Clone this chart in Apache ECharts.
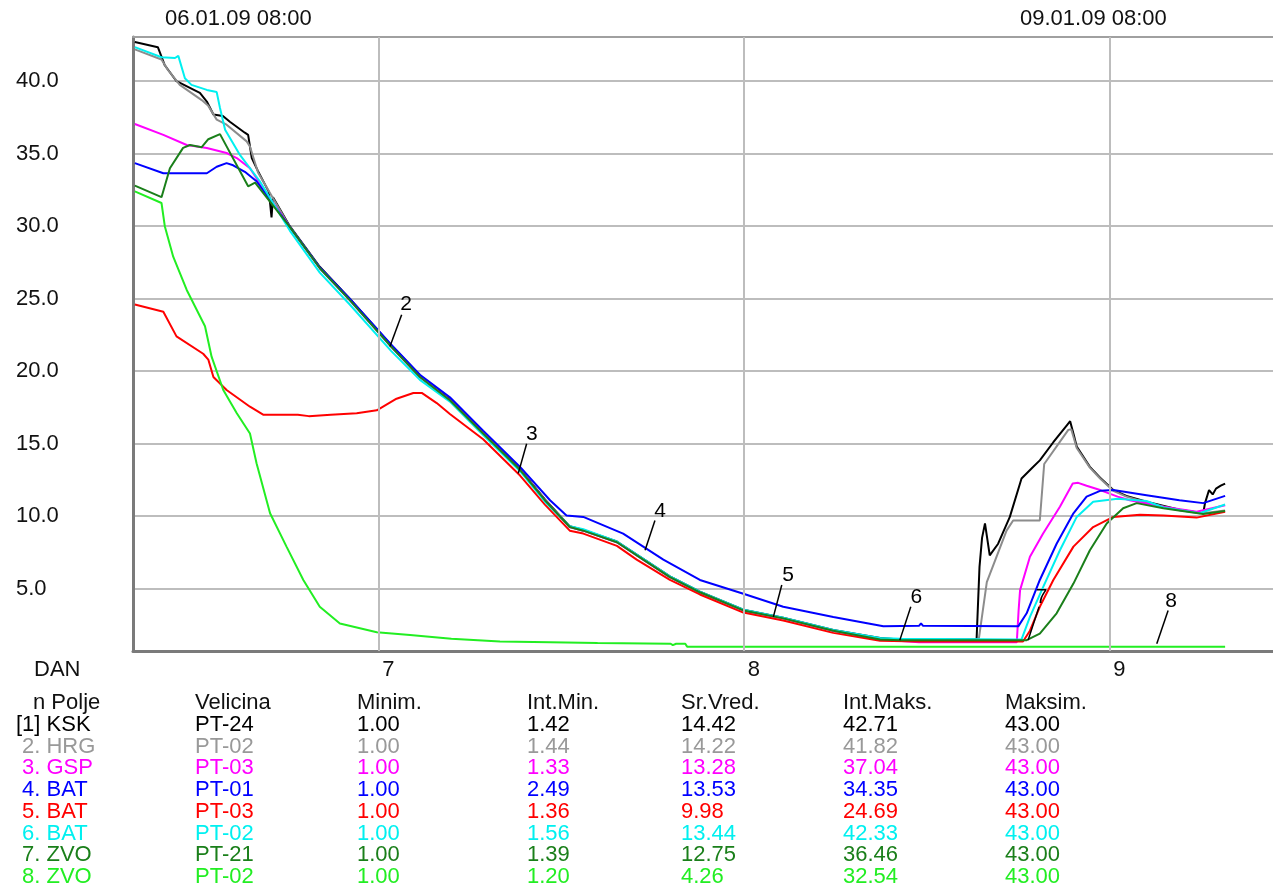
<!DOCTYPE html>
<html lang="hr">
<head>
    <meta charset="UTF-8">
    <title>DAN 06.01.09 - 09.01.09</title>
    <script src="https://cdn.jsdelivr.net/npm/echarts@6/dist/echarts.min.js"></script>
    <style>
        * { margin: 0; padding: 0; box-sizing: border-box; }
        body { background: #ffffff; overflow: hidden; }
        #chart { width: 1273px; height: 887px; }
    </style>
</head>
<body>
    <div id="chart"></div>
    <script type="text/javascript">
        // x = day of month (fractional), y = measured value
        const ksk = [[6.334,42.7],[6.397,42.35],[6.416,41.1],[6.448,40.0],[6.512,39.2],[6.531,38.6],[6.549,37.7],[6.575,37.6],[6.594,37.2],[6.635,36.45],[6.644,36.3],[6.654,34.7],[6.671,33.8],[6.700,32.4],[6.704,31.6],[6.708,30.6],[6.712,32.0],[6.758,30.0],[6.840,27.2],[6.922,25.0],[7.035,21.8],[7.114,19.7],[7.196,18.05],[7.287,15.75],[7.388,13.25],[7.456,11.15],[7.524,9.3],[7.561,9.05],[7.653,8.25],[7.725,7.05],[7.798,5.85],[7.880,4.8],[7.999,3.55],[8.108,3.0],[8.245,2.15],[8.373,1.6],[8.427,1.5],[8.637,1.5],[8.645,6.5],[8.652,8.5],[8.660,9.5],[8.673,7.3],[8.696,8.1],[8.728,9.95],[8.760,12.6],[8.788,13.3],[8.810,13.85],[8.847,15.1],[8.885,16.3],[8.893,16.55],[8.905,15.4],[8.911,14.8],[8.947,13.4],[8.975,12.65],[9.011,11.8],[9.047,11.4],[9.102,11.0],[9.192,10.45],[9.257,10.2],[9.262,10.9],[9.273,11.8],[9.283,11.5],[9.292,11.9],[9.305,12.1],[9.317,12.25]];
        const hrg = [[6.334,42.2],[6.407,41.5],[6.424,40.8],[6.457,39.75],[6.517,38.7],[6.535,38.3],[6.558,37.35],[6.585,37.0],[6.640,35.85],[6.649,35.5],[6.671,33.7],[6.758,29.95],[6.840,27.15],[6.922,24.95],[7.035,21.75],[7.114,19.65],[7.196,18.0],[7.287,15.7],[7.388,13.2],[7.456,11.1],[7.524,9.25],[7.561,9.0],[7.653,8.2],[7.725,7.0],[7.798,5.8],[7.880,4.75],[7.999,3.5],[8.108,2.95],[8.245,2.1],[8.373,1.55],[8.427,1.5],[8.643,1.5],[8.665,5.45],[8.719,9.0],[8.737,9.7],[8.810,9.7],[8.822,13.6],[8.888,15.95],[8.896,16.0],[8.911,14.7],[8.947,13.35],[8.975,12.6],[9.011,11.75],[9.047,11.35],[9.102,10.95],[9.192,10.4],[9.257,10.2],[9.317,10.4]];
        const gsp = [[6.334,37.05],[6.412,36.3],[6.476,35.6],[6.531,35.4],[6.585,35.05],[6.613,34.7],[6.649,34.0],[6.685,32.6],[6.758,29.95],[6.840,27.1],[6.922,24.9],[7.035,21.7],[7.114,19.6],[7.196,18.0],[7.287,15.7],[7.388,13.2],[7.456,11.1],[7.524,9.25],[7.561,9.0],[7.653,8.2],[7.725,7.0],[7.798,5.8],[7.880,4.75],[7.999,3.5],[8.108,2.95],[8.245,2.1],[8.373,1.5],[8.480,1.3],[8.747,1.3],[8.752,3.5],[8.756,4.9],[8.783,7.2],[8.819,8.8],[8.865,10.65],[8.900,12.25],[8.915,12.3],[8.938,12.1],[8.975,11.8],[9.023,11.35],[9.056,11.1],[9.148,10.65],[9.239,10.3],[9.317,10.75]];
        const batPT01 = [[6.334,34.35],[6.412,33.65],[6.531,33.65],[6.558,34.1],[6.585,34.35],[6.603,34.2],[6.635,33.75],[6.667,33.1],[6.758,29.95],[6.840,27.15],[6.922,25.0],[7.035,21.85],[7.114,19.75],[7.196,18.2],[7.287,15.9],[7.388,13.4],[7.470,11.1],[7.515,10.05],[7.561,9.95],[7.670,8.8],[7.780,7.0],[7.880,5.6],[7.999,4.65],[8.108,3.75],[8.245,3.05],[8.382,2.4],[8.480,2.45],[8.485,2.6],[8.490,2.45],[8.751,2.4],[8.774,3.3],[8.810,5.6],[8.856,8.1],[8.902,10.2],[8.938,11.35],[8.975,11.75],[9.011,11.8],[9.102,11.45],[9.192,11.1],[9.257,10.9],[9.317,11.4]];
        const batPT03 = [[6.334,24.6],[6.412,24.1],[6.448,22.4],[6.521,21.2],[6.535,20.8],[6.549,19.6],[6.585,18.7],[6.649,17.55],[6.685,17.0],[6.780,17.0],[6.810,16.9],[6.870,17.0],[6.941,17.1],[6.996,17.3],[7.050,18.1],[7.096,18.5],[7.119,18.5],[7.160,17.8],[7.196,17.05],[7.287,15.3],[7.388,12.8],[7.456,10.8],[7.524,9.0],[7.561,8.8],[7.653,7.95],[7.707,7.0],[7.798,5.6],[7.880,4.6],[7.999,3.35],[8.108,2.8],[8.245,1.95],[8.373,1.4],[8.480,1.35],[8.764,1.35],[8.783,2.1],[8.810,3.75],[8.847,5.6],[8.902,7.9],[8.956,9.25],[9.011,9.95],[9.084,10.1],[9.148,10.05],[9.239,9.9],[9.317,10.3]];
        const batPT02 = [[6.334,42.35],[6.407,41.65],[6.444,41.6],[6.453,41.75],[6.471,40.2],[6.489,39.75],[6.531,39.4],[6.558,39.25],[6.567,38.15],[6.581,36.65],[6.622,34.9],[6.676,33.1],[6.758,29.7],[6.840,26.8],[6.922,24.6],[7.035,21.4],[7.114,19.4],[7.196,17.9],[7.287,15.6],[7.388,13.1],[7.456,11.0],[7.524,9.3],[7.561,9.1],[7.653,8.25],[7.725,7.05],[7.798,5.85],[7.880,4.8],[7.999,3.55],[8.108,3.0],[8.245,2.15],[8.373,1.6],[8.427,1.55],[8.760,1.5],[8.783,3.05],[8.819,5.1],[8.865,7.65],[8.911,9.95],[8.956,11.0],[9.023,11.2],[9.102,11.05],[9.148,10.6],[9.247,10.2],[9.317,10.8]];
        const zvoPT21 = [[6.334,32.8],[6.407,32.0],[6.430,34.0],[6.466,35.4],[6.485,35.6],[6.517,35.45],[6.535,36.0],[6.567,36.35],[6.572,36.46],[6.644,32.75],[6.663,33.0],[6.758,29.95],[6.840,27.1],[6.922,24.9],[7.035,21.7],[7.114,19.6],[7.196,18.0],[7.287,15.7],[7.388,13.2],[7.456,11.1],[7.524,9.25],[7.561,9.0],[7.653,8.2],[7.725,7.0],[7.798,5.8],[7.880,4.75],[7.999,3.5],[8.108,2.95],[8.245,2.1],[8.373,1.5],[8.427,1.45],[8.774,1.45],[8.810,1.9],[8.856,3.3],[8.902,5.35],[8.947,7.65],[8.993,9.5],[9.038,10.55],[9.075,10.9],[9.148,10.55],[9.257,10.15],[9.317,10.35]];
        const zvoPT02 = [[6.334,32.4],[6.407,31.6],[6.416,30.0],[6.439,27.9],[6.476,25.6],[6.526,23.1],[6.544,21.0],[6.576,18.7],[6.613,17.1],[6.649,15.7],[6.667,13.65],[6.704,10.2],[6.749,7.9],[6.795,5.6],[6.840,3.75],[6.895,2.6],[6.996,2.0],[7.087,1.8],[7.200,1.55],[7.333,1.35],[7.470,1.3],[7.600,1.25],[7.800,1.2],[7.806,1.1],[7.815,1.2],[7.840,1.2],[7.845,1.0],[9.317,1.0]];

        // day gridlines
        const dayTicks = [7, 8, 9];

        // table rows (n Polje, Velicina, Minim., Int.Min., Sr.Vred., Int.Maks., Maksim.)
        const polje = ['[1] KSK', '2. HRG', '3. GSP', '4. BAT', '5. BAT', '6. BAT', '7. ZVO', '8. ZVO'];
        const velicina = ['PT-24', 'PT-02', 'PT-03', 'PT-01', 'PT-03', 'PT-02', 'PT-21', 'PT-02'];
        const minim = ['1.00', '1.00', '1.00', '1.00', '1.00', '1.00', '1.00', '1.00'];
        const intMin = ['1.42', '1.44', '1.33', '2.49', '1.36', '1.56', '1.39', '1.20'];
        const srVred = ['14.42', '14.22', '13.28', '13.53', '9.98', '13.44', '12.75', '4.26'];
        const intMaks = ['42.71', '41.82', '37.04', '34.35', '24.69', '42.33', '36.46', '32.54'];
        const maksim = ['43.00', '43.00', '43.00', '43.00', '43.00', '43.00', '43.00', '43.00'];
        const headers = ['n Polje', 'Velicina', 'Minim.', 'Int.Min.', 'Sr.Vred.', 'Int.Maks.', 'Maksim.'];
        const colors = ['#000000', '#8c8c8c', '#ff00ff', '#0000ff', '#ff0000', '#00f0f0', '#1a7f1a', '#22ee22'];
        const seriesData = [ksk, hrg, gsp, batPT01, batPT03, batPT02, zvoPT21, zvoPT02];

        // numbered callouts: text, leader start, leader end, text position
        const calloutText = ['2', '3', '4', '5', '6', '7', '8'];
        const calloutFrom = [[7.032,21.7],[7.383,12.95],[7.730,7.65],[8.081,3.05],[8.427,1.45],[8.778,1.45],[9.130,1.2]];
        const calloutTo = [[7.064,23.9],[7.406,15.0],[7.757,9.7],[8.104,5.25],[8.457,3.75],[8.808,3.75],[9.161,3.5]];
        const calloutAt = [[7.076,24.6],[7.420,15.65],[7.771,10.35],[8.121,5.95],[8.472,4.4],[8.815,4.4],[9.169,4.15]];

        const FONT = '"Liberation Sans", Arial, sans-serif';
        const chart = echarts.init(document.getElementById('chart'));

        // empty carrier series for the vertical day gridlines (drawn under the data)
        const series = [{
            type: 'line',
            data: [],
            z: 1,
            silent: true,
            markLine: {
                silent: true,
                symbol: 'none',
                label: { show: false },
                lineStyle: { color: '#bdbdbd', width: 2, type: 'solid' },
                data: dayTicks.map(function (d) { return { xAxis: d }; })
            }
        }];

        seriesData.forEach(function (d, i) {
            series.push({
                name: polje[i],
                type: 'line',
                data: d,
                showSymbol: false,
                lineStyle: { color: colors[i], width: 2 },
                itemStyle: { color: colors[i] },
                z: 2
            });
        });

        series.push({
            type: 'lines',
            coordinateSystem: 'cartesian2d',
            data: calloutFrom.map(function (p, i) { return { coords: [p, calloutTo[i]] }; }),
            lineStyle: { color: '#000', width: 1.5, opacity: 1 },
            z: 4
        });

        // table and free texts
        const graphics = [];
        const colX = [22, 195, 357, 527, 681, 843, 1005];
        const rowY0 = 725, rowStep = 21.7;
        function txt(x, y, s, fill, size) {
            graphics.push({
                type: 'text', x: x, y: y, z: 100,
                style: { text: s, fill: fill, fontSize: size || 22, fontFamily: FONT, align: 'left', verticalAlign: 'middle' }
            });
        }
        txt(165, 19, '06.01.09 08:00', '#111');
        txt(1020, 19, '09.01.09 08:00', '#111');
        txt(34, 670, 'DAN', '#111');
        headers.forEach(function (h, c) { txt(c === 0 ? 33 : colX[c], 703, h, '#111'); });
        const columns = [polje, velicina, minim, intMin, srVred, intMaks, maksim];
        for (let r = 0; r < polje.length; r++) {
            columns.forEach(function (col, c) {
                const x = (c === 0 && r === 0) ? 16 : colX[c];
                txt(x, rowY0 + r * rowStep, col[r], colors[r] === '#8c8c8c' ? '#999999' : colors[r]);
            });
        }

        const axisLabelBase = { color: '#111', fontSize: 22, fontFamily: FONT, showMinLabel: false, showMaxLabel: false };
        chart.setOption({
            animation: false,
            backgroundColor: '#ffffff',
            grid: { left: 133, top: 37, right: 0, bottom: 236, show: false },
            xAxis: [{
                type: 'value',
                min: 6.329,
                max: 9.448,
                splitNumber: 3,
                axisLine: { show: true, lineStyle: { color: '#7a7a7a', width: 3 } },
                axisTick: { show: false },
                axisLabel: Object.assign({
                    margin: 8, align: 'left', padding: [0, 0, 0, 4],
                    formatter: function (v) { return String(Math.round(v)); }
                }, axisLabelBase),
                splitLine: { show: false }
            }, {
                // top frame line only
                type: 'value',
                position: 'top',
                min: 6.329,
                max: 9.448,
                axisLine: { show: true, onZero: false, lineStyle: { color: '#a0a0a0', width: 2 } },
                axisTick: { show: false },
                axisLabel: { show: false },
                splitLine: { show: false }
            }],
            yAxis: {
                type: 'value',
                min: 0.7,
                max: 43.05,
                splitNumber: 8,
                axisLine: { show: true, lineStyle: { color: '#7a7a7a', width: 3 } },
                axisTick: { show: false },
                axisLabel: Object.assign({
                    margin: 117, align: 'left', padding: [0, 0, 8, 0],
                    formatter: function (v) { return v.toFixed(1); }
                }, axisLabelBase),
                splitLine: { show: true, lineStyle: { color: '#bdbdbd', width: 2 } }
            },
            graphic: graphics,
            series: series
        });

        // callout numbers placed through the chart's own scales
        calloutAt.forEach(function (p, i) {
            const px = chart.convertToPixel({ gridIndex: 0 }, p);
            graphics.push({
                type: 'text', x: px[0], y: px[1], z: 100,
                style: { text: calloutText[i], fill: '#000', fontSize: 21, fontFamily: FONT, align: 'center', verticalAlign: 'middle' }
            });
        });
        chart.setOption({ graphic: graphics });

        window.addEventListener('resize', function () { chart.resize(); });
    </script>
</body>
</html>
